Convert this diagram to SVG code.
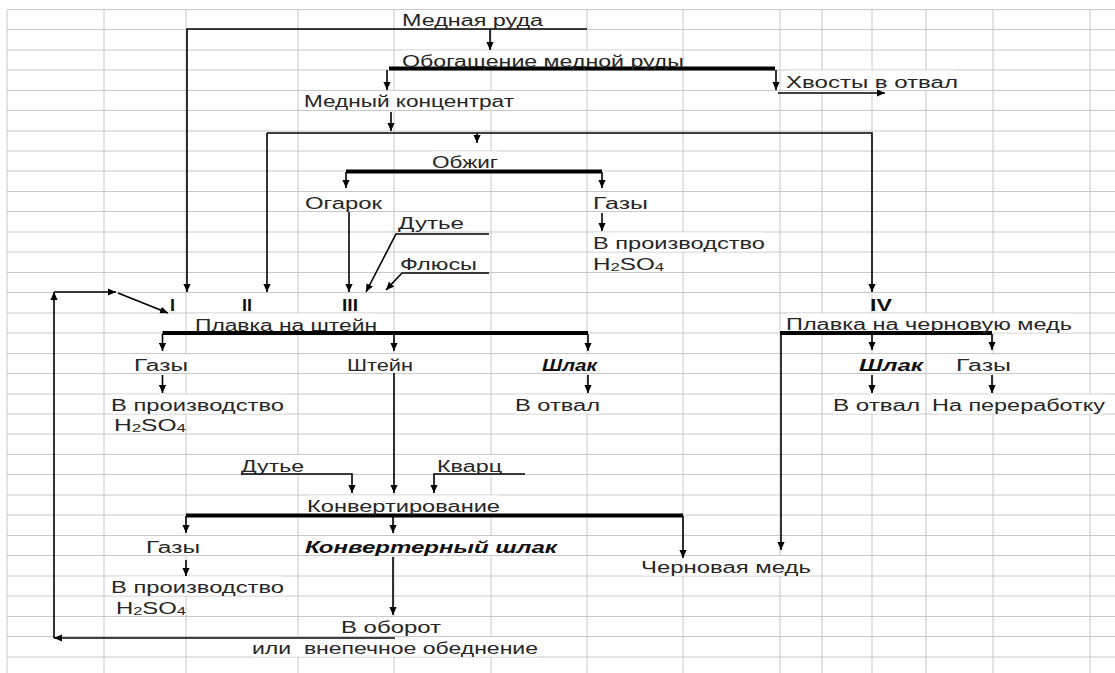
<svg xmlns="http://www.w3.org/2000/svg" width="1115" height="673" viewBox="0 0 1115 673">
<defs>
<marker id="ah" viewBox="0 0 10 10" refX="10" refY="5" markerWidth="8" markerHeight="8" markerUnits="userSpaceOnUse" orient="auto"><path d="M0,0.5 L10,5 L0,9.5 z" fill="#000"/></marker>
<style>
.grid{stroke:#c8c8c8;stroke-width:1;fill:none}
.bg{fill:#fff}
.t{font-family:"Liberation Sans",Arial,sans-serif;font-size:16px;fill:#262626}
.b{font-weight:bold;fill:#111}
.bi{font-weight:bold;font-style:italic;fill:#111}
.ln{stroke:#000;stroke-width:1.6;fill:none}
.ar{marker-end:url(#ah)}
.th{stroke:#000;stroke-width:3.8;fill:none}
.sub{font-size:11px}
</style>
</defs>
<rect width="1115" height="673" fill="#fff"/>
<g id="grid" class="grid">
<path d="M7,9.5V673M104,9.5V673M186,9.5V673M298,9.5V673M394,9.5V673M491,9.5V673M587,9.5V673M683,9.5V673M780,9.5V673M822,9.5V673M872,9.5V673M926,9.5V673M993,9.5V673M1090,9.5V673"/>
<path d="M7,9.5H1115M7,29.5H1115M7,50H1115M7,70H1115M7,90.5H1115M7,110.5H1115M7,131H1115M7,151H1115M7,171H1115M7,191.5H1115M7,211.5H1115M7,232H1115M7,252H1115M7,272.5H1115M7,292.5H1115M7,313H1115M7,333H1115M7,353.5H1115M7,373.5H1115M7,394H1115M7,414H1115M7,434H1115M7,454.5H1115M7,474.5H1115M7,495H1115M7,515H1115M7,535.5H1115M7,555.5H1115M7,576H1115M7,596H1115M7,616.5H1115M7,636.5H1115M7,657H1115"/>
</g>
<g id="cell-backs" class="bg">
<rect x="402" y="10" width="141" height="19"/>
<rect x="402" y="50.5" width="280" height="19"/>
<rect x="786" y="70.5" width="172" height="19.5"/>
<rect x="304" y="91" width="210" height="19"/>
<rect x="432" y="151.5" width="66" height="19"/>
<rect x="593" y="232.5" width="172" height="19"/>
<rect x="195" y="313.5" width="182" height="19"/>
<rect x="786" y="313.5" width="286" height="19"/>
<rect x="134" y="354" width="54" height="19"/>
<rect x="347" y="354" width="66" height="19"/>
<rect x="542" y="354" width="55" height="19"/>
<rect x="859" y="354" width="64" height="19"/>
<rect x="956" y="354" width="55" height="19"/>
<rect x="111" y="394.5" width="173" height="19"/>
<rect x="515" y="394.5" width="85" height="19"/>
<rect x="833" y="394.5" width="87" height="19"/>
<rect x="932" y="394.5" width="173" height="19"/>
<rect x="241" y="455" width="63" height="19"/>
<rect x="437" y="455" width="65" height="19"/>
<rect x="307" y="495.5" width="193" height="19"/>
<rect x="146" y="536" width="54" height="19"/>
<rect x="305" y="536" width="252" height="19"/>
<rect x="641" y="556" width="170" height="19.5"/>
<rect x="111" y="576.5" width="173" height="19"/>
<rect x="341" y="617" width="100" height="19"/>
<rect x="252" y="637" width="286" height="19.5"/>
</g>
<g id="connectors">
<path class="ln ar" d="M587,29H187V292"/>
<path class="ln ar" d="M490,29V50"/>
<path class="th" d="M389,68.5H775"/>
<path class="ln ar" d="M387,70V90"/>
<path class="ln ar" d="M776,70V90"/>
<path class="ln ar" d="M778,93H885"/>
<path class="ln ar" d="M391,112V131"/>
<path class="ln ar" d="M267,133V292"/>
<path class="ln ar" d="M267,133H872V292"/>
<path class="ln ar" d="M477,133V143"/>
<path class="th" d="M346,171.5H602"/>
<path class="ln ar" d="M346,172V188"/>
<path class="ln ar" d="M602,172V188"/>
<path class="ln ar" d="M602,213V231"/>
<path class="ln ar" d="M349,212V292"/>
<path class="ln ar" d="M489,234H396L366,292"/>
<path class="ln ar" d="M489,273H402L386,290"/>
<path class="ln ar" d="M395,638H54"/>
<path class="ln ar" d="M54,638V292"/>
<path class="ln ar" d="M54,292H116"/>
<path class="ln ar" d="M118,293L168,313"/>
<path class="th" d="M162.5,333H588"/>
<path class="ln ar" d="M162.5,334V351"/>
<path class="ln ar" d="M394,334V351"/>
<path class="ln ar" d="M588,334V351"/>
<path class="ln ar" d="M162.5,375V393"/>
<path class="ln ar" d="M588,375V393"/>
<path class="ln ar" d="M394,373V493"/>
<path class="ln ar" d="M241,474H352V493"/>
<path class="ln ar" d="M525,474H434V493"/>
<path class="th" d="M186,515.5H683"/>
<path class="ln ar" d="M186,516V533"/>
<path class="ln ar" d="M393,516V533"/>
<path class="ln ar" d="M683,516V558"/>
<path class="ln ar" d="M186,560V576"/>
<path class="ln ar" d="M393,557V615"/>
<path class="th" d="M780,333H992"/>
<path class="ln ar" d="M781,333V550"/>
<path class="ln ar" d="M872,334V350"/>
<path class="ln ar" d="M992,334V350"/>
<path class="ln ar" d="M872,375V393"/>
<path class="ln ar" d="M992,375V393"/>
</g>
<g id="n-ore"><text class="t" x="402" y="26" textLength="141" lengthAdjust="spacingAndGlyphs">Медная руда</text></g>
<g id="n-enrich"><text class="t" x="402" y="67" textLength="282" lengthAdjust="spacingAndGlyphs">Обогащение медной руды</text></g>
<g id="n-tails"><text class="t" x="786" y="87.5" textLength="172" lengthAdjust="spacingAndGlyphs">Хвосты в отвал</text></g>
<g id="n-conc"><text class="t" x="304" y="107" textLength="210" lengthAdjust="spacingAndGlyphs">Медный концентрат</text></g>
<g id="n-roast"><text class="t" x="432" y="168" textLength="66" lengthAdjust="spacingAndGlyphs">Обжиг</text></g>
<g id="n-cinder"><text class="t" x="305" y="208.5" textLength="77" lengthAdjust="spacingAndGlyphs">Огарок</text></g>
<g id="n-gas1"><text class="t" x="593" y="208.5" textLength="55" lengthAdjust="spacingAndGlyphs">Газы</text></g>
<g id="n-blast1"><text class="t" x="398" y="229" textLength="66" lengthAdjust="spacingAndGlyphs">Дутье</text></g>
<g id="n-prod1"><text class="t" x="593" y="249" textLength="172" lengthAdjust="spacingAndGlyphs">В производство</text>
<text class="t" x="593" y="269.5" textLength="71" lengthAdjust="spacingAndGlyphs">H<tspan class="sub" dy="1">2</tspan><tspan dy="-1">SO</tspan><tspan class="sub" dy="1">4</tspan></text></g>
<g id="n-flux"><text class="t" x="400" y="269.5" textLength="77" lengthAdjust="spacingAndGlyphs">Флюсы</text></g>
<g id="n-I"><text class="t b" x="170" y="310.5" textLength="5" lengthAdjust="spacingAndGlyphs">I</text></g>
<g id="n-II"><text class="t b" x="242" y="310.5" textLength="10" lengthAdjust="spacingAndGlyphs">II</text></g>
<g id="n-III"><text class="t b" x="342" y="310.5" textLength="16" lengthAdjust="spacingAndGlyphs">III</text></g>
<g id="n-IV"><text class="t b" x="870" y="310.5" textLength="22" lengthAdjust="spacingAndGlyphs">IV</text></g>
<g id="n-matte-smelt"><text class="t" x="195" y="330.5" textLength="182" lengthAdjust="spacingAndGlyphs">Плавка на штейн</text></g>
<g id="n-blister-smelt"><text class="t" x="786" y="330" textLength="286" lengthAdjust="spacingAndGlyphs">Плавка на черновую медь</text></g>
<g id="n-gas2"><text class="t" x="134" y="370.5" textLength="54" lengthAdjust="spacingAndGlyphs">Газы</text></g>
<g id="n-matte"><text class="t" x="347" y="370.5" textLength="66" lengthAdjust="spacingAndGlyphs">Штейн</text></g>
<g id="n-slag1"><text class="t bi" x="542" y="370.5" textLength="55" lengthAdjust="spacingAndGlyphs">Шлак</text></g>
<g id="n-slag2"><text class="t bi" x="859" y="370.5" textLength="64" lengthAdjust="spacingAndGlyphs">Шлак</text></g>
<g id="n-gas3"><text class="t" x="956" y="370.5" textLength="55" lengthAdjust="spacingAndGlyphs">Газы</text></g>
<g id="n-prod2"><text class="t" x="111" y="411" textLength="173" lengthAdjust="spacingAndGlyphs">В производство</text>
<text class="t" x="114" y="431" textLength="72" lengthAdjust="spacingAndGlyphs">H<tspan class="sub" dy="1">2</tspan><tspan dy="-1">SO</tspan><tspan class="sub" dy="1">4</tspan></text></g>
<g id="n-dump1"><text class="t" x="515" y="411" textLength="85" lengthAdjust="spacingAndGlyphs">В отвал</text></g>
<g id="n-dump2"><text class="t" x="833" y="411" textLength="87" lengthAdjust="spacingAndGlyphs">В отвал</text></g>
<g id="n-recycle"><text class="t" x="932" y="411" textLength="173" lengthAdjust="spacingAndGlyphs">На переработку</text></g>
<g id="n-blast2"><text class="t" x="241" y="471.5" textLength="63" lengthAdjust="spacingAndGlyphs">Дутье</text></g>
<g id="n-quartz"><text class="t" x="437" y="471.5" textLength="65" lengthAdjust="spacingAndGlyphs">Кварц</text></g>
<g id="n-convert"><text class="t" x="307" y="511.5" textLength="193" lengthAdjust="spacingAndGlyphs">Конвертирование</text></g>
<g id="n-gas4"><text class="t" x="146" y="553" textLength="54" lengthAdjust="spacingAndGlyphs">Газы</text></g>
<g id="n-cslag"><text class="t bi" x="305" y="553" textLength="252" lengthAdjust="spacingAndGlyphs">Конвертерный шлак</text></g>
<g id="n-blister"><text class="t" x="641" y="573" textLength="170" lengthAdjust="spacingAndGlyphs">Черновая медь</text></g>
<g id="n-prod3"><text class="t" x="111" y="593" textLength="173" lengthAdjust="spacingAndGlyphs">В производство</text>
<text class="t" x="116" y="613.5" textLength="70" lengthAdjust="spacingAndGlyphs">H<tspan class="sub" dy="1">2</tspan><tspan dy="-1">SO</tspan><tspan class="sub" dy="1">4</tspan></text></g>
<g id="n-circ"><text class="t" x="341" y="633" textLength="100" lengthAdjust="spacingAndGlyphs">В оборот</text>
<text class="t" x="252" y="654" textLength="286" lengthAdjust="spacingAndGlyphs" xml:space="preserve">или  внепечное обеднение</text></g>
</svg>
